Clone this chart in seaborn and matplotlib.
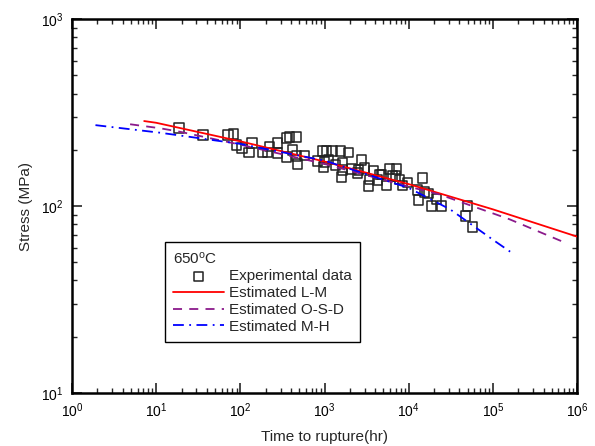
import matplotlib as mpl
mpl.use('agg')
import matplotlib.pyplot as plt
from matplotlib.ticker import LogLocator, NullFormatter
import pandas as pd
import seaborn as sns

# experimental rupture data at 650 C
exp_time = [18.6, 35.8, 70.9, 83.5, 90.6, 104, 126, 137, 184, 211, 223, 278, 278,
            355, 385, 467, 355, 419, 480, 581, 467, 949, 1059, 1248, 1552, 1932,
            828, 1003, 1119, 975, 1354, 1640, 1640, 1595, 2096, 2755, 2540, 2991,
            3428, 3336, 4505, 5453, 5920, 7165, 6972, 7780, 9680, 14580, 12710,
            15390, 13070, 21370, 18640, 24500, 8440, 17170, 49860, 47200, 57100,
            3823, 4757, 4266, 6427, 2471]
exp_stress = [261, 240, 240, 243, 212, 204, 194, 217, 194, 194, 209, 217, 192,
              231, 234, 234, 183, 199, 168, 187, 185, 197, 197, 197, 197, 194,
              174, 172, 178, 162, 166, 170, 156, 143, 158, 176, 156, 160,
              139, 128, 148, 129, 158, 158, 145, 139, 134, 141, 122,
              119, 108, 109, 100, 100, 129, 117, 100, 88.6, 77.3,
              154, 147, 138, 145, 150]

# model estimates
lm_time = [7.2, 10, 100, 1000, 10000, 100000, 1000000]
lm_stress = [285, 279, 222, 173, 131, 96, 68.6]

osd_time = [4.9, 11, 19, 100, 1000, 10000, 23000, 157000, 645000]
osd_stress = [274, 261, 250, 213, 168, 127, 115.5, 85, 65]

mh_time = [1.9, 11, 100, 1000, 10000, 31000, 100000, 160000]
mh_stress = [271, 247, 215, 175, 125, 96, 66, 57]

sns.set_style('ticks')
plt.rcParams['font.family'] = ['Liberation Sans', 'DejaVu Sans']
plt.rcParams['mathtext.fontset'] = 'custom'
plt.rcParams['mathtext.rm'] = 'Liberation Sans'
plt.rcParams['mathtext.it'] = 'Liberation Sans:italic'

fig, ax = plt.subplots(figsize=(5.95, 4.46), dpi=100)
fig.subplots_adjust(left=0.121, right=0.970, top=0.957, bottom=0.119)

exp = pd.DataFrame({'t': exp_time, 's': exp_stress})
sns.scatterplot(data=exp, x='t', y='s', marker='s', s=46, facecolor='none',
                edgecolor='#222222', linewidth=1.1, label='Experimental data', ax=ax, zorder=3)
sns.lineplot(x=lm_time, y=lm_stress, color='#ff0000', lw=1.3, sort=False,
             label='Estimated L-M', ax=ax, zorder=4)
sns.lineplot(x=osd_time, y=osd_stress, color='#8b1a8b', lw=1.3, sort=False,
             linestyle=(0, (5, 4)), label='Estimated O-S-D', ax=ax, zorder=4)
sns.lineplot(x=mh_time, y=mh_stress, color='#0000ff', lw=1.3, sort=False,
             linestyle=(0, (6, 3, 1, 3)), label='Estimated M-H', ax=ax, zorder=4)

ax.set_xscale('log')
ax.set_yscale('log')
ax.set_xlim(1, 1e6)
ax.set_ylim(10, 1000)
ax.xaxis.set_major_locator(LogLocator(base=10, numticks=10))
ax.xaxis.set_minor_locator(LogLocator(base=10, subs=range(2, 10), numticks=20))
ax.yaxis.set_minor_locator(LogLocator(base=10, subs=range(2, 10), numticks=20))
ax.xaxis.set_minor_formatter(NullFormatter())
ax.yaxis.set_minor_formatter(NullFormatter())

ax.tick_params(which='major', direction='in', length=7, width=1.2, top=True, right=True,
               labelsize=10, pad=6, labelcolor='black')
ax.tick_params(which='minor', direction='in', length=3.5, width=1.0, top=True, right=True)
for sp in ax.spines.values():
    sp.set_linewidth(1.8)
    sp.set_color('black')

ax.set_xlabel('Time to rupture(hr)', fontsize=11, labelpad=7)
ax.set_ylabel('Stress (MPa)', fontsize=11, labelpad=6)

leg = ax.legend(loc='lower left', bbox_to_anchor=(0.184, 0.136), title='650$^\\mathrm{o}$C',
                fontsize=11, title_fontsize=11, fancybox=False, edgecolor='black',
                framealpha=1, handlelength=3.3, labelspacing=0.18, borderpad=0.55,
                handletextpad=0.35, borderaxespad=0)
leg.get_frame().set_linewidth(1.0)
leg._legend_box.align = 'left'

plt.savefig('out.png', dpi=100)
